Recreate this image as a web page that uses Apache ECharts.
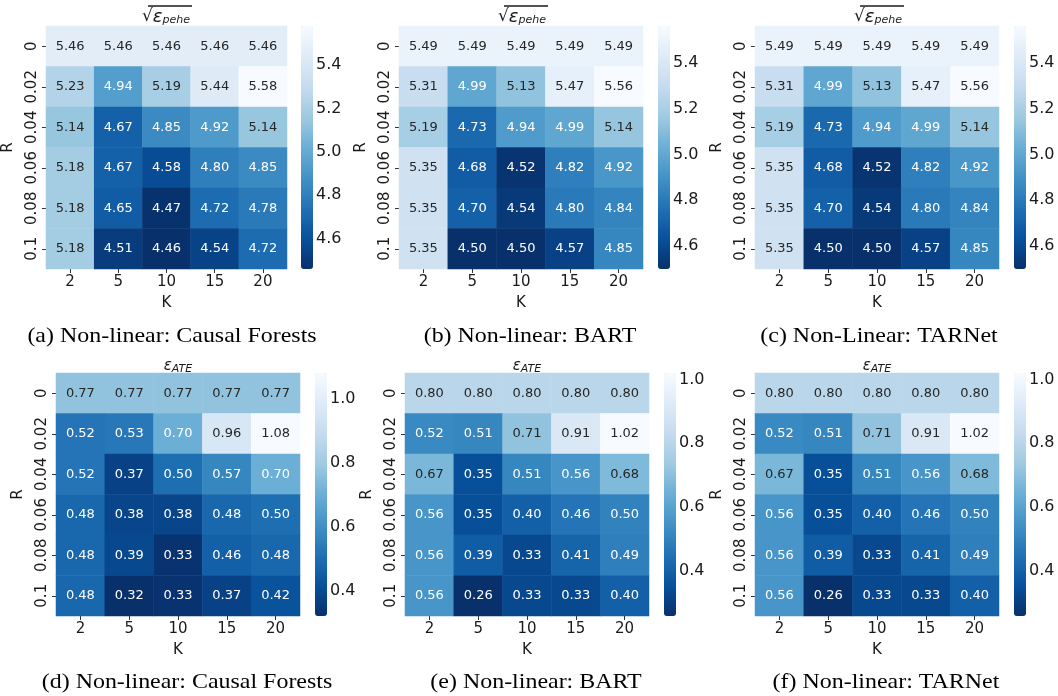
<!DOCTYPE html>
<html><head><meta charset="utf-8">
<script src="https://cdn.jsdelivr.net/npm/echarts@6/dist/echarts.min.js"></script>
<style>html,body{margin:0;padding:0;background:#fff}#c{width:1058px;height:696px}</style>
</head><body><div id="c"></div>
<script>
// ---------- data ----------
const kLabels = ['2', '5', '10', '15', '20'];
const rLabels = ['0', '0.02', '0.04', '0.06', '0.08', '0.1'];
// rows: R (top to bottom), columns: K
const peheCF = [
  [5.46, 5.46, 5.46, 5.46, 5.46],
  [5.23, 4.94, 5.19, 5.44, 5.58],
  [5.14, 4.67, 4.85, 4.92, 5.14],
  [5.18, 4.67, 4.58, 4.80, 4.85],
  [5.18, 4.65, 4.47, 4.72, 4.78],
  [5.18, 4.51, 4.46, 4.54, 4.72]
];
const peheBART = [
  [5.49, 5.49, 5.49, 5.49, 5.49],
  [5.31, 4.99, 5.13, 5.47, 5.56],
  [5.19, 4.73, 4.94, 4.99, 5.14],
  [5.35, 4.68, 4.52, 4.82, 4.92],
  [5.35, 4.70, 4.54, 4.80, 4.84],
  [5.35, 4.50, 4.50, 4.57, 4.85]
];
const peheTARNet = [
  [5.49, 5.49, 5.49, 5.49, 5.49],
  [5.31, 4.99, 5.13, 5.47, 5.56],
  [5.19, 4.73, 4.94, 4.99, 5.14],
  [5.35, 4.68, 4.52, 4.82, 4.92],
  [5.35, 4.70, 4.54, 4.80, 4.84],
  [5.35, 4.50, 4.50, 4.57, 4.85]
];
const ateCF = [
  [0.77, 0.77, 0.77, 0.77, 0.77],
  [0.52, 0.53, 0.70, 0.96, 1.08],
  [0.52, 0.37, 0.50, 0.57, 0.70],
  [0.48, 0.38, 0.38, 0.48, 0.50],
  [0.48, 0.39, 0.33, 0.46, 0.48],
  [0.48, 0.32, 0.33, 0.37, 0.42]
];
const ateBART = [
  [0.80, 0.80, 0.80, 0.80, 0.80],
  [0.52, 0.51, 0.71, 0.91, 1.02],
  [0.67, 0.35, 0.51, 0.56, 0.68],
  [0.56, 0.35, 0.40, 0.46, 0.50],
  [0.56, 0.39, 0.33, 0.41, 0.49],
  [0.56, 0.26, 0.33, 0.33, 0.40]
];
const ateTARNet = [
  [0.80, 0.80, 0.80, 0.80, 0.80],
  [0.52, 0.51, 0.71, 0.91, 1.02],
  [0.67, 0.35, 0.51, 0.56, 0.68],
  [0.56, 0.35, 0.40, 0.46, 0.50],
  [0.56, 0.39, 0.33, 0.41, 0.49],
  [0.56, 0.26, 0.33, 0.33, 0.40]
];
const peheTicks = [4.6, 4.8, 5.0, 5.2, 5.4];
const ateTicks = [0.4, 0.6, 0.8, 1.0];
const captions = [
  '(a) Non-linear: Causal Forests', '(b) Non-linear: BART', '(c) Non-Linear: TARNet',
  '(d) Non-linear: Causal Forests', '(e) Non-linear: BART', '(f) Non-linear: TARNet'
];
const matrices = [peheCF, peheBART, peheTARNet, ateCF, ateBART, ateTARNet];

// ---------- layout / style ----------
const BLUES = ['#f7fbff','#deebf7','#c6dbef','#9ecae1','#6baed6','#4292c6','#2171b5','#08519c','#08306b'];
const BLUES_R = BLUES.slice().reverse();
const panels = [
  {gx: 43,  gy: 26,  cb: 301,  cx: 172, capY: 336},
  {gx: 399, gy: 26,  cb: 658,  cx: 530, capY: 336},
  {gx: 755, gy: 26,  cb: 1014, cx: 879, capY: 336},
  {gx: 56,  gy: 373, cb: 315,  cx: 187, capY: 682},
  {gx: 405, gy: 373, cb: 664,  cx: 536, capY: 682},
  {gx: 755, gy: 373, cb: 1014, cx: 886, capY: 682}
];
const GW = 244, GH = 243, CBW = 12;
const FONT = 'DejaVu Sans';
const TXT = '#1a1a1a';

function hex2rgb(h) { return [1,3,5].map(i => parseInt(h.substr(i, 2), 16)); }
function cmap(t) { // t in [0,1] on reversed Blues
  t = Math.max(0, Math.min(1, t));
  const n = BLUES_R.length - 1, p = t * n, i = Math.min(Math.floor(p), n - 1), f = p - i;
  const a = hex2rgb(BLUES_R[i]), b = hex2rgb(BLUES_R[i + 1]);
  return a.map((v, k) => v + (b[k] - v) * f);
}
function lum(rgb) {
  const c = rgb.map(v => { v /= 255; return v <= 0.03928 ? v / 12.92 : Math.pow((v + 0.055) / 1.055, 2.4); });
  return 0.2126 * c[0] + 0.7152 * c[1] + 0.0722 * c[2];
}

const option = {
  animation: false, backgroundColor: '#fff',
  grid: [], xAxis: [], yAxis: [], series: [], visualMap: [], graphic: []
};

matrices.forEach((m, p) => {
  const P = panels[p];
  const flat = m.flat();
  const vmin = Math.min(...flat), vmax = Math.max(...flat);
  const ticks = p < 3 ? peheTicks : ateTicks;
  // heatmap grid
  option.grid.push({left: P.gx, top: P.gy, width: GW, height: GH, containLabel: false});
  const gi = option.grid.length - 1;
  option.xAxis.push({
    type: 'category', gridIndex: gi, data: kLabels, position: 'bottom',
    name: 'K', nameLocation: 'middle', nameGap: 27,
    nameTextStyle: {fontFamily: FONT, fontSize: 15, color: TXT},
    axisLine: {show: false}, splitLine: {show: false},
    axisTick: {show: true, alignWithLabel: true, length: 4, lineStyle: {color: '#333'}},
    axisLabel: {fontFamily: FONT, fontSize: 15, color: TXT, margin: 6, interval: 0}
  });
  option.yAxis.push({
    type: 'category', gridIndex: gi, data: rLabels, inverse: true,
    name: 'R', nameLocation: 'middle', nameGap: 30,
    nameTextStyle: {fontFamily: FONT, fontSize: 15, color: TXT},
    axisLine: {show: false}, splitLine: {show: false},
    axisTick: {show: true, alignWithLabel: true, length: 4, lineStyle: {color: '#333'}},
    axisLabel: {fontFamily: FONT, fontSize: 15, color: TXT, margin: 6, rotate: 90, interval: 0}
  });
  const data = [];
  m.forEach((row, r) => row.forEach((v, k) => {
    const L = lum(cmap((v - vmin) / (vmax - vmin)));
    data.push({value: [k, r, v], label: {color: L > 0.408 ? '#262626' : '#ffffff'}});
  }));
  option.series.push({
    type: 'heatmap', xAxisIndex: gi, yAxisIndex: gi, data: data,
    label: {show: true, fontFamily: FONT, fontSize: 13, formatter: q => q.value[2].toFixed(2)},
    itemStyle: {borderWidth: 0}, emphasis: {disabled: true}
  });
  option.visualMap.push({
    type: 'continuous', seriesIndex: option.series.length - 1, dimension: 2,
    min: vmin, max: vmax, left: P.cb, top: P.gy, itemWidth: CBW, itemHeight: GH,
    padding: 0, calculable: false, hoverLink: false, text: null, showLabel: false,
    textStyle: {color: 'transparent'},
    inRange: {color: BLUES_R}
  });
  // colorbar axis grid
  option.grid.push({left: P.cb, top: P.gy, width: CBW, height: GH});
  const ci = option.grid.length - 1;
  option.xAxis.push({type: 'value', gridIndex: ci, show: false, min: 0, max: 1});
  option.yAxis.push({
    type: 'value', gridIndex: ci, position: 'right', min: vmin, max: vmax,
    axisLine: {show: false}, splitLine: {show: false},
    axisTick: {show: true, length: 4, customValues: ticks, lineStyle: {color: '#333'}},
    axisLabel: {show: true, customValues: ticks, fontFamily: FONT, fontSize: 16, color: TXT, margin: 3,
      formatter: v => Number(v).toFixed(1)}
  });
  // titles
  const cxg = P.gx + GW / 2;
  if (p < 3) {
    option.graphic.push({
      type: 'text', x: cxg + 1, y: P.gy - 9,
      style: {
        text: '{r|√}{e|ε}{s|pehe}', align: 'center', verticalAlign: 'middle',
        rich: {
          r: {fontFamily: FONT, fontSize: 17, fill: TXT},
          e: {fontFamily: FONT, fontSize: 18, fontStyle: 'italic', fill: TXT},
          s: {fontFamily: FONT, fontSize: 11, fontStyle: 'italic', fill: TXT, padding: [7, 0, 0, 0]}
        }
      }
    });
    option.graphic.push({
      type: 'line', shape: {x1: cxg - 17, y1: 6, x2: cxg + 27, y2: 6},
      style: {stroke: TXT, lineWidth: 1.3}
    });
  } else {
    option.graphic.push({
      type: 'text', x: cxg, y: P.gy - 7,
      style: {
        text: '{e|ε}{s|ATE}', align: 'center', verticalAlign: 'middle',
        rich: {
          e: {fontFamily: FONT, fontSize: 15, fontStyle: 'italic', fill: TXT},
          s: {fontFamily: FONT, fontSize: 11, fontStyle: 'italic', fill: TXT, padding: [6, 0, 0, 0]}
        }
      }
    });
  }
  // caption
  option.graphic.push({
    type: 'text', x: P.cx, y: P.capY, scaleX: 1.14,
    style: {text: captions[p], align: 'center', verticalAlign: 'middle',
      fontFamily: 'Liberation Serif', fontSize: 21, fill: '#000'}
  });
});

const chart = echarts.init(document.getElementById('c'), null, {renderer: 'canvas'});
chart.setOption(option);
</script></body></html>
